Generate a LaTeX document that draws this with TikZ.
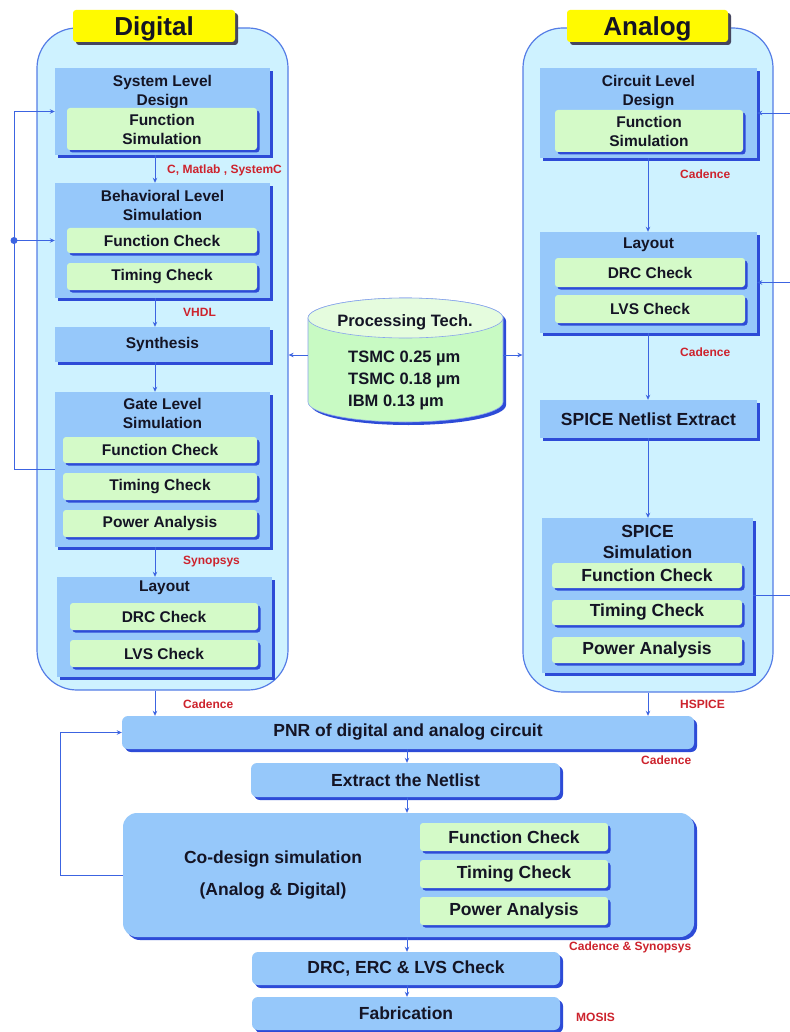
\documentclass[tikz,border=0pt]{standalone}
\usepackage{fontspec}
\setmainfont{Liberation Sans}
\usetikzlibrary{arrows.meta,shadows}

\definecolor{panel}{RGB}{206,242,255}
\definecolor{edgeblue}{RGB}{85,125,230}
\definecolor{boxblue}{RGB}{150,200,250}
\definecolor{shd}{RGB}{45,75,215}
\definecolor{chkgreen}{RGB}{212,250,200}
\definecolor{cylgreen}{RGB}{200,250,195}
\definecolor{tagyellow}{RGB}{255,250,0}
\definecolor{tagshadow}{RGB}{70,70,95}
\definecolor{arrowblue}{RGB}{60,100,225}
\definecolor{toolred}{RGB}{205,35,45}
\definecolor{txt}{RGB}{20,20,36}

\begin{document}
\begin{tikzpicture}[x=1pt,y=-1pt,
  sz/.style 2 args={minimum width=#1pt,minimum height=#2pt},
  fA/.style={font=\bfseries\fontsize{15.5}{19}\selectfont},
  fB/.style={font=\bfseries\fontsize{17.5}{21}\selectfont},
  cont/.style={draw=edgeblue,line width=1.2pt,fill=panel,rounded corners=40pt,inner sep=0},
  tag/.style={fill=tagyellow,rounded corners=3pt,inner sep=0,text=txt,
    text height=18.5pt,text depth=0pt,
    font=\bfseries\fontsize{26}{28}\selectfont,
    drop shadow={shadow xshift=3pt,shadow yshift=-3pt,opacity=1,fill=tagshadow}},
  blk/.style={fill=boxblue,inner sep=0,text=txt,align=center,
    drop shadow={shadow xshift=3pt,shadow yshift=-3pt,opacity=1,fill=shd}},
  bar/.style={blk,rounded corners=6pt},
  chk/.style={fill=chkgreen,rounded corners=3pt,inner sep=0,text=txt,align=center,
    drop shadow={shadow xshift=2.5pt,shadow yshift=-2.5pt,opacity=1,fill=shd}},
  ttl/.style={text=txt,align=center,inner sep=0},
  tool/.style={text=toolred,anchor=west,inner sep=0,font=\bfseries\fontsize{12}{14}\selectfont},
  wire/.style={draw=arrowblue,line width=0.9pt},
  flow/.style={wire,-{Stealth[length=5pt,width=4.5pt]}}]

\fill[white] (0,0) rectangle (789,1032);
\useasboundingbox (0,0) rectangle (789,1032);

% column guides for the vertical connectors
\coordinate (dx) at (155,0);
\coordinate (ax) at (648,0);
\coordinate (bx) at (407,0);
\coordinate (lx) at (14,0);
\coordinate (rx) at (791,0);
\coordinate (lx2) at (60,0);

% ---------------- Digital column ----------------
\node[cont,sz={251}{662}] (dig) at (162.5,359) {};
\node[tag,sz={162}{32}] (digT) at (154,26) {Digital};

\node[blk,sz={215}{87}] (sys) at (162.5,111.5) {};
\node[ttl,fA] (sysT) at (162.5,92.5) {System Level\\Design};
\node[chk,fA,sz={190}{42}] (sysF) at (162,129) {Function\\Simulation};

\node[blk,sz={215}{115}] (beh) at (162.5,240.5) {};
\node[ttl,fA] (behT) at (162.5,205) {Behavioral Level\\Simulation};
\node[chk,fA,sz={190}{25}] (behF) at (162,240.5) {Function Check};
\node[chk,fA,sz={190}{27}] (behC) at (162,276.5) {Timing Check};

\node[blk,fA,sz={215}{35}] (syn) at (162.5,344.5) {Synthesis};

\node[blk,sz={215}{155}] (gate) at (162.5,469.5) {};
\node[ttl,fA] (gateT) at (162.5,413.5) {Gate Level\\Simulation};
\node[chk,fA,sz={194}{26}] (gateF) at (160,450) {Function Check};
\node[chk,fA,sz={194}{27}] (gateC) at (160,486.5) {Timing Check};
\node[chk,fA,sz={194}{27}] (gateP) at (160,523.5) {Power Analysis};

\node[blk,sz={215}{100}] (layD) at (164.5,627) {};
\node[ttl,fA] (layDT) at (164.5,587.5) {Layout};
\node[chk,fA,sz={188}{27}] (layDD) at (164,616.5) {DRC Check};
\node[chk,fA,sz={188}{27}] (layDL) at (164,653.5) {LVS Check};

\draw[flow] (sys.south -| dx) -- (beh.north -| dx);
\draw[flow] (beh.south -| dx) -- (syn.north -| dx);
\draw[flow] (syn.south -| dx) -- (gate.north -| dx);
\draw[flow] (gate.south -| dx) -- (layD.north -| dx);

\node[tool] (tl1) at (167,170) {C, Matlab , SystemC};
\node[tool] (tl2) at (183,312) {VHDL};
\node[tool] (tl3) at (183,562) {Synopsys};
\node[tool] (tl4) at (183,704) {Cadence};

% feedback loop on the digital side
\draw[flow] (gate.west) -- (lx |- gate.west) -- (lx |- sys.west) -- (sys.west);
\draw[flow] (lx |- behF.west) -- (beh.west |- behF.west);
\fill[arrowblue] (lx |- behF.west) circle (3.5pt);

% ---------------- Analog column ----------------
\node[cont,sz={250}{664}] (ana) at (648,360) {};
\node[tag,sz={161}{32}] (anaT) at (647.5,26) {Analog};

\node[blk,sz={217}{90}] (cir) at (648.5,113) {};
\node[ttl,fA] (cirT) at (648.5,92.5) {Circuit Level\\Design};
\node[chk,fA,sz={188}{42}] (cirF) at (649,131) {Function\\Simulation};

\node[blk,sz={217}{101}] (layA) at (648.5,282.5) {};
\node[ttl,fA] (layAT) at (648.5,245) {Layout};
\node[chk,fA,sz={190}{29}] (layAD) at (650,272.5) {DRC Check};
\node[chk,fA,sz={190}{28}] (layAL) at (650,309) {LVS Check};

\node[blk,fB,sz={217}{38}] (net) at (648.5,419) {SPICE Netlist Extract};

\node[blk,sz={211}{155}] (spi) at (647.5,595.5) {};
\node[ttl,fB] (spiT) at (647.5,541.5) {SPICE\\Simulation};
\node[chk,fB,sz={190}{25}] (spiF) at (647,575.5) {Function Check};
\node[chk,fB,sz={190}{25}] (spiC) at (647,612.5) {Timing Check};
\node[chk,fB,sz={190}{26}] (spiP) at (647,650) {Power Analysis};

\draw[flow] (cir.south -| ax) -- (layA.north -| ax);
\draw[flow] (layA.south -| ax) -- (net.north -| ax);
\draw[flow] (net.south -| ax) -- (spi.north -| ax);

\node[tool] (tr1) at (680,174) {Cadence};
\node[tool] (tr2) at (680,352) {Cadence};
\node[tool] (tr3) at (680,704) {HSPICE};

% feedback loop on the analog side
\draw[flow] (spi.east) -- (rx |- spi.east) -- (rx |- cir.east) -- (cir.east);
\draw[flow] (rx |- layA.east) -- (layA.east);

% ---------------- Process database ----------------
\fill[shd] (311,321) -- (311,405) arc[start angle=180,end angle=0,x radius=97.5,y radius=20]
  -- (506,321) arc[start angle=0,end angle=-180,x radius=97.5,y radius=20] -- cycle;
\filldraw[fill=cylgreen,draw=edgeblue!70,line width=0.6pt] (308,318) -- (308,402)
  arc[start angle=180,end angle=0,x radius=97.5,y radius=20]
  -- (503,318) arc[start angle=0,end angle=-180,x radius=97.5,y radius=20] -- cycle;
\filldraw[fill=chkgreen!60!white,draw=edgeblue!70,line width=0.6pt] (405.5,318) ellipse[x radius=97.5,y radius=20];
\node[inner sep=0,sz={195}{110}] (tech) at (405.5,355) {};
\node[ttl,font=\bfseries\fontsize{16.5}{20}\selectfont] (techT) at (405,322) {Processing Tech.};
\node[ttl,align=left,anchor=west,font=\bfseries\fontsize{16.5}{22}\selectfont] (techL) at (348,380)
  {TSMC 0.25 µm\\TSMC 0.18 µm\\IBM 0.13 µm};

\draw[flow] (tech.west) -- (dig.east |- tech.west);
\draw[flow] (tech.east) -- (ana.west |- tech.east);

% ---------------- Integration flow ----------------
\node[bar,fB,sz={572}{33}] (pnr) at (408,732.5) {PNR of digital and analog circuit};
\node[bar,fB,sz={309}{34}] (ext) at (405.5,780) {Extract the Netlist};
\node[bar,rounded corners=14pt,sz={571}{124}] (cod) at (408.5,875) {};
\node[ttl,font=\bfseries\fontsize{17.5}{32}\selectfont] (codT) at (273,875.5) {Co-design simulation\\(Analog \& Digital)};
\node[chk,fB,sz={188}{28}] (codF) at (514,837) {Function Check};
\node[chk,fB,sz={188}{28}] (codC) at (514,874) {Timing Check};
\node[chk,fB,sz={188}{28}] (codP) at (514,911) {Power Analysis};
\node[bar,fB,sz={308}{33}] (drc) at (406,968.5) {DRC, ERC \& LVS Check};
\node[bar,fB,sz={308}{33}] (fab) at (406,1013.5) {Fabrication};

\draw[flow] (dig.south -| dx) -- (pnr.north -| dx);
\draw[flow] (ana.south -| ax) -- (pnr.north -| ax);
\draw[flow] (pnr.south -| bx) -- (ext.north -| bx);
\draw[flow] (ext.south -| bx) -- (cod.north -| bx);
\draw[flow] (cod.south -| bx) -- (drc.north -| bx);
\draw[flow] (drc.south -| bx) -- (fab.north -| bx);

\draw[flow] (cod.west) -- (lx2 |- cod.west) -- (lx2 |- pnr.west) -- (pnr.west);

\node[tool] (tb1) at (641,760) {Cadence};
\node[tool] (tb2) at (569,947) {Cadence \& Synopsys};
\node[tool] (tb3) at (576,1017) {MOSIS};

\end{tikzpicture}
\end{document}
